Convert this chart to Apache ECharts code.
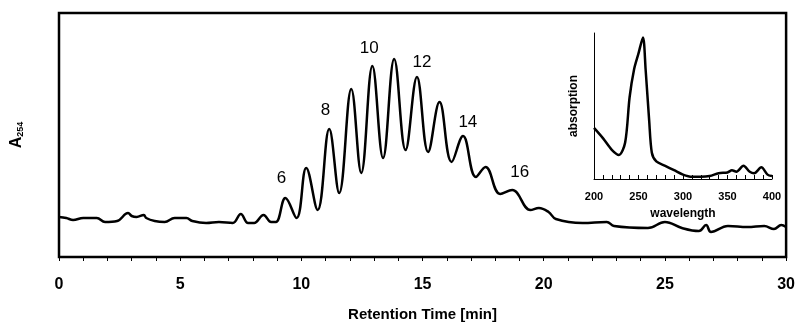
<!DOCTYPE html>
<html>
<head>
<meta charset="utf-8">
<script src="https://cdn.jsdelivr.net/npm/echarts@6/dist/echarts.min.js"></script>
<style>
  html, body { margin: 0; padding: 0; background: #fff; }
  #chart { width: 798px; height: 329px; }
</style>
</head>
<body>
<div id="chart"></div>
<script>
// chromatogram (retention time in min, A254 in arbitrary units)
const times = [0, 0.3, 0.58, 1.0, 1.56, 1.9, 2.4, 2.85, 3.0, 3.2, 3.5, 3.6, 3.95, 4.36, 4.77, 5.26, 5.5, 6.07, 6.6, 7.17,
  7.5, 7.8, 8.05, 8.44, 8.75, 8.95, 9.34, 9.8, 10.2, 10.67, 11.15, 11.56, 12.06, 12.47, 12.93, 13.37, 13.83, 14.3,
  14.77, 15.23, 15.7, 16.2, 16.67, 17.2, 17.6, 18.2, 18.7, 19.45, 19.8, 20.2, 20.5, 21.6, 22.6, 22.9, 24.3, 25.0,
  25.7, 26.4, 26.7, 26.9, 27.6, 28.4, 29.1, 29.5, 29.8, 30];
const absorbance = [40, 39, 37, 39, 39, 35, 36, 44, 41, 40, 42, 39, 36, 35, 39, 39, 36, 34, 35, 34,
  43, 34, 34, 42, 35, 35, 59, 39, 89, 47, 128, 64, 168, 84, 191, 99, 198, 107,
  180, 105, 155, 95, 121, 80, 90, 63, 67, 47, 49, 45, 38, 34, 35, 31, 29, 35,
  29, 26, 32, 25, 31, 30, 31, 28, 32, 30];

// oligomer numbers written over the peaks
const peakNames = ['6', '8', '10', '12', '14', '16'];
const peakTimes = [9.18, 10.99, 12.8, 14.98, 16.87, 19.01];
const peakLevels = [79, 147, 209, 195, 135, 85];

// UV spectrum in the inset
const wavelengths = [200, 210, 220, 228, 235, 240, 245, 250, 255, 258, 262, 265, 270, 280, 290, 300, 310, 320,
  330, 340, 350, 355, 360, 368, 375, 380, 388, 395, 400];
const absorption = [0.35, 0.28, 0.20, 0.165, 0.25, 0.56, 0.75, 0.86, 0.97, 0.75, 0.40, 0.18, 0.12, 0.09, 0.06,
  0.03, 0.015, 0.015, 0.02, 0.04, 0.045, 0.06, 0.05, 0.09, 0.05, 0.04, 0.08, 0.03, 0.02];

const chart = echarts.init(document.getElementById('chart'));
const font = 'Liberation Sans, Arial, sans-serif';

chart.setOption({
  animation: false,
  grid: [
    { left: 59, right: 10, top: 13, bottom: 72, show: true, borderColor: '#000', borderWidth: 2.5 },
    { left: 594, top: 33, width: 178, height: 146 }
  ],
  xAxis: [
    {
      gridIndex: 0, type: 'value', min: 0, max: 30, interval: 5,
      axisLine: { show: false },
      axisTick: { show: true, length: 4, lineStyle: { color: '#000', width: 1 } },
      minorTick: { show: true, splitNumber: 5, length: 4, lineStyle: { color: '#000', width: 1 } },
      splitLine: { show: false },
      axisLabel: { margin: 20, color: '#000', fontSize: 16, fontWeight: 'bold', fontFamily: font },
      name: 'Retention Time [min]', nameLocation: 'middle', nameGap: 50,
      nameTextStyle: { color: '#000', fontSize: 15, fontWeight: 'bold', fontFamily: font }
    },
    {
      gridIndex: 1, type: 'value', min: 200, max: 400, interval: 50,
      axisLine: { show: true, onZero: false, lineStyle: { color: '#000', width: 1 } },
      axisTick: { show: true, inside: true, length: 4, lineStyle: { color: '#000' } },
      minorTick: { show: true, splitNumber: 5, length: 4, lineStyle: { color: '#000' } },
      splitLine: { show: false },
      axisLabel: { margin: 12, color: '#000', fontSize: 11, fontWeight: 'bold', fontFamily: font },
      name: 'wavelength', nameLocation: 'middle', nameGap: 29,
      nameTextStyle: { color: '#000', fontSize: 12, fontWeight: 'bold', fontFamily: font }
    }
  ],
  yAxis: [
    {
      gridIndex: 0, type: 'value', min: 0, max: 244,
      axisLine: { show: false }, axisTick: { show: false }, axisLabel: { show: false },
      splitLine: { show: false },
      name: '{a|A}{s|254}', nameLocation: 'middle', nameGap: 34,
      nameTextStyle: {
        rich: {
          a: { fontSize: 16, fontWeight: 'bold', color: '#000', fontFamily: font },
          s: { fontSize: 9, fontWeight: 'bold', color: '#000', fontFamily: font, verticalAlign: 'bottom', padding: [6, 0, 0, 0] }
        }
      }
    },
    {
      gridIndex: 1, type: 'value', min: 0, max: 1,
      axisLine: { show: true, lineStyle: { color: '#000', width: 1 } },
      axisTick: { show: false }, axisLabel: { show: false }, splitLine: { show: false },
      name: 'absorption', nameLocation: 'middle', nameGap: 14,
      nameTextStyle: { color: '#000', fontSize: 12, fontWeight: 'bold', fontFamily: font }
    }
  ],
  series: [
    {
      type: 'line', xAxisIndex: 0, yAxisIndex: 0, smooth: 0.4, showSymbol: false,
      lineStyle: { color: '#000', width: 2.5 },
      data: times.map((t, i) => [t, absorbance[i]])
    },
    {
      type: 'scatter', xAxisIndex: 0, yAxisIndex: 0, symbolSize: 1,
      itemStyle: { color: 'rgba(0,0,0,0)', opacity: 1 },
      label: {
        show: true, position: 'inside', color: '#000', fontSize: 17, fontFamily: font,
        textBorderWidth: 0, formatter: p => p.data[2]
      },
      data: peakNames.map((n, i) => [peakTimes[i], peakLevels[i], n])
    },
    {
      type: 'line', xAxisIndex: 1, yAxisIndex: 1, smooth: 0.3, showSymbol: false,
      lineStyle: { color: '#000', width: 2.5 },
      data: wavelengths.map((w, i) => [w, absorption[i]])
    }
  ]
});
</script>
</body>
</html>
